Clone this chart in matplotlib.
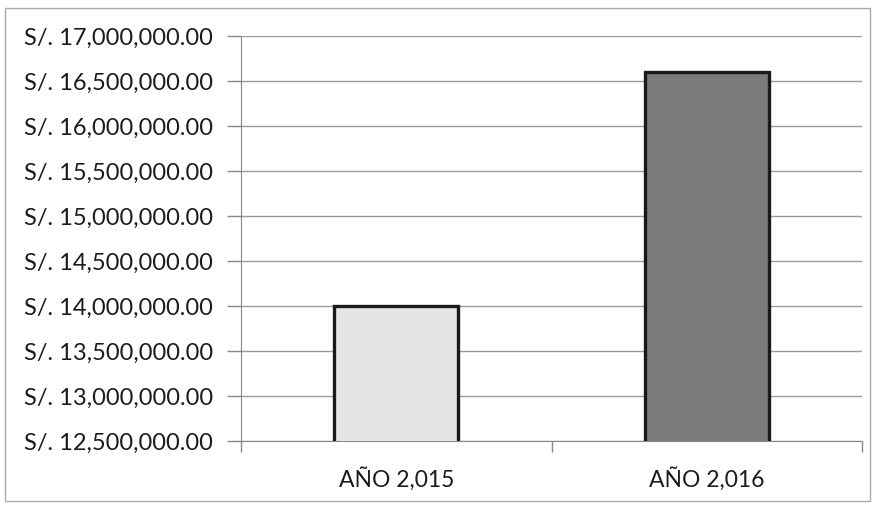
import matplotlib
matplotlib.use("Agg")

import matplotlib.pyplot as plt
from matplotlib.patches import Rectangle
from matplotlib.ticker import FuncFormatter, MultipleLocator

# Data
categories = ["AÑO 2,015", "AÑO 2,016"]
values = [14000000, 16600000]
colors = ["#e4e5e6", "#7b7b7b"]

plt.rcParams["font.family"] = ["Lato", "DejaVu Sans"]

fig = plt.figure(figsize=(8.79, 5.07), dpi=100)
ax = fig.add_axes([0.274, 0.130, 0.707, 0.799])

x = range(len(categories))
ax.bar(x, values, width=0.4, color=colors, edgecolor="#1a1a1a", linewidth=2.4,
       zorder=3)

ax.set_xlim(-0.5, len(categories) - 0.5)
ax.set_ylim(12500000, 17000000)
ax.yaxis.set_major_locator(MultipleLocator(500000))
ax.yaxis.set_major_formatter(FuncFormatter(lambda v, _: f"S/. {v:,.2f}"))
ax.set_xticks(list(x))
ax.set_xticklabels(categories)

# category boundary ticks on the x axis
ax.set_xticks([-0.5, 0.5, 1.5], minor=True)
ax.tick_params(axis="x", which="major", length=0, pad=19, labelsize=16.5,
               labelcolor="#1c1c1c")
ax.tick_params(axis="x", which="minor", length=8, color="#888888", width=1)
ax.tick_params(axis="y", length=10, color="#888888", width=1, labelsize=17,
               pad=10, labelcolor="#1c1c1c")

ax.grid(axis="y", color="#9a9a9a", linewidth=1, zorder=0)
for side in ["top", "right"]:
    ax.spines[side].set_visible(False)
ax.spines["left"].set_color("#888888")
ax.spines["bottom"].set_color("#888888")

# outer frame of the chart
fig.patches.append(Rectangle((0.006, 0.012), 0.984, 0.972,
                             transform=fig.transFigure, fill=False,
                             edgecolor="#aaaaaa", linewidth=1))

fig.savefig("out.png", dpi=100)
plt.close(fig)
